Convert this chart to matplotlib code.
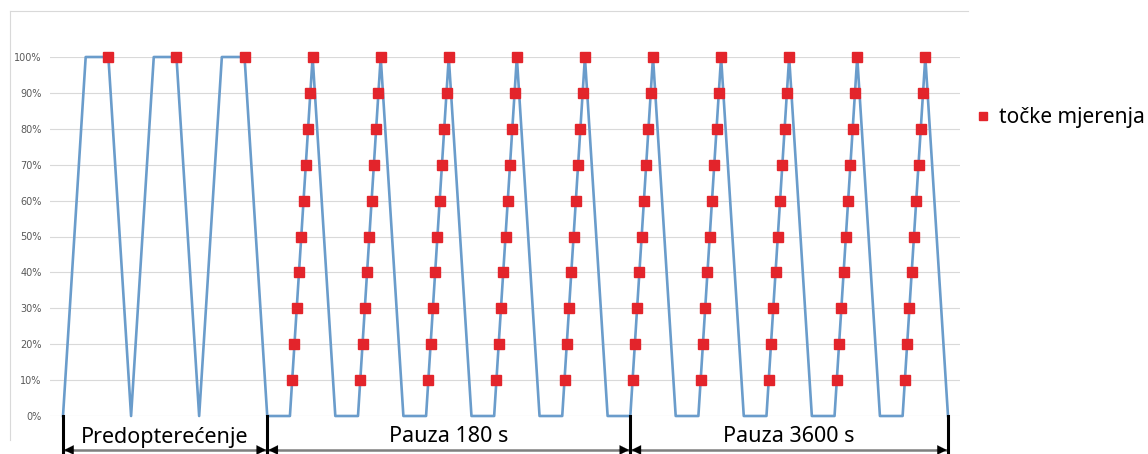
import numpy as np
import matplotlib
matplotlib.use("Agg")
from matplotlib import pyplot as plt
from matplotlib.ticker import PercentFormatter

# load curve (fraction of max load), one value per step
load = [0, 1, 1, 0, 1, 1, 0, 1, 1, 0,
        0, 1, 0, 0, 1, 0, 0, 1, 0, 0, 1, 0, 0, 1, 0,
        0, 1, 0, 0, 1, 0, 0, 1, 0, 0, 1, 0, 0, 1, 0]
# measuring points during preload (top of each plateau)
preload_idx = [2, 5, 8]
# ramps with measuring points: start step of each ramp
ramp_start = [10, 13, 16, 19, 22, 25, 28, 31, 34, 37]
levels = [0.1, 0.2, 0.3, 0.4, 0.5, 0.6, 0.7, 0.8, 0.9, 1.0]
# phase boundaries (step index) and names
bounds = [0, 9, 25, 39]
phases = ["Predopterećenje", "Pauza 180 s", "Pauza 3600 s"]

W, H = 1148, 454
fig = plt.figure(figsize=(W/100, H/100), dpi=100)
step = (948-63)/39.0
ax = fig.add_axes([50/W, (H-416)/H, 910/W, 359/H])
ax.set_xlim(-13/step, 39+12/step)
ax.set_ylim(0, 1)

x = np.arange(len(load))
ax.plot(x, load, color="#6a9ccb", lw=1.9, clip_on=False, zorder=2)

mx = list(preload_idx)
my = [1.0]*len(preload_idx)
for s in ramp_start:
	for lv in levels:
		mx.append(s + lv)
		my.append(lv)
ax.plot(mx, my, ls="none", marker="s", ms=6.5, color="#e3242b", mec="#e3242b",
	clip_on=False, zorder=3, label="točke mjerenja")

ax.set_yticks(np.arange(0, 1.01, 0.1))
ax.yaxis.set_major_formatter(PercentFormatter(1.0, decimals=0))
ax.tick_params(axis="y", length=0, labelsize=7, labelcolor="#595959", pad=6)
ax.set_xticks([])
ax.grid(axis="y", color="#d9d9d9", lw=0.8)
ax.set_axisbelow(True)
for sp in ax.spines.values():
	sp.set_visible(False)

# bottom annotations
ya = -34/359.0
ax.plot([bounds[0], bounds[-1]], [ya, ya], color="#7f7f7f", lw=1.8, clip_on=False)
hd = 12/step
for b in bounds:
	ax.plot([b, b], [0, ya-0.008], color="black", lw=2.2, clip_on=False)
	if b != bounds[0]:
		ax.annotate("", xy=(b-0.05, ya), xytext=(b-hd, ya),
			arrowprops=dict(arrowstyle="-|>", color="black", lw=0.1,
				mutation_scale=17, shrinkA=0, shrinkB=0), annotation_clip=False)
	if b != bounds[-1]:
		ax.annotate("", xy=(b+0.05, ya), xytext=(b+hd, ya),
			arrowprops=dict(arrowstyle="-|>", color="black", lw=0.1,
				mutation_scale=17, shrinkA=0, shrinkB=0), annotation_clip=False)
for i in range(len(phases)):
	a, b = bounds[i], bounds[i+1]
	ax.text((a+b)/2.0, -21/359.0, phases[i], ha="center", va="center",
		fontsize=15.5, family="Noto Sans", color="black")

# chart border (top and left only visible)
fig.add_artist(plt.Line2D([10/W, 968/W], [(H-11)/H, (H-11)/H], color="#d9d9d9", lw=0.8))
fig.add_artist(plt.Line2D([10/W, 10/W], [(H-11)/H, (H-440)/H], color="#d9d9d9", lw=0.8))

fig.legend(loc="center left", bbox_to_anchor=(958/W, (H-118)/H), frameon=False,
	handlelength=0.6, handletextpad=0.45, markerscale=0.9,
	prop={"family": "Noto Sans", "size": 15})

fig.savefig("out.png", dpi=100)
